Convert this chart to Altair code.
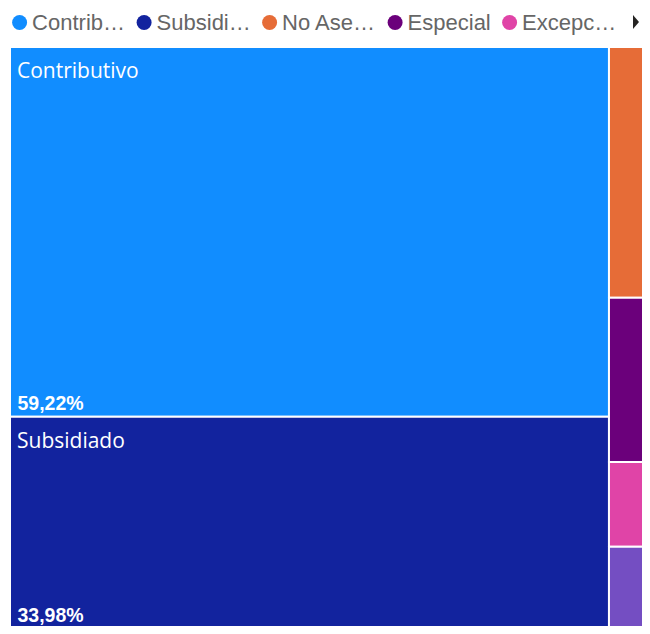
import altair as alt
import pandas as pd

# Data
categories = ["Contributivo", "Subsidiado", "No Asegurado", "Especial", "Excepción", "Indeterminado"]
shares = [59.22, 33.98, 2.93, 1.92, 0.99, 0.96]
colors = ["#118DFF", "#12239E", "#E66C37", "#6B007B", "#E044A7", "#744EC2"]
column_of = [0, 0, 1, 1, 1, 1]

# Treemap layout (slice-and-dice columns) computed from the values
col_totals = {}
for c, s in zip(column_of, shares):
    col_totals[c] = col_totals.get(c, 0) + s
x_start = {}
acc = 0
for c in sorted(col_totals):
    x_start[c] = acc
    acc += col_totals[c]
y_acc = {c: 0 for c in col_totals}
rows = []
for name, s, c in zip(categories, shares, column_of):
    tot = col_totals[c]
    rows.append(dict(
        cat=name, share=s,
        x0=x_start[c], x1=x_start[c] + tot,
        y0=y_acc[c] / tot, y1=(y_acc[c] + s) / tot,
        label=f"{s:.2f}".replace(".", ",") + "%",
        big=(c == 0),
    ))
    y_acc[c] += s
df = pd.DataFrame(rows)

# the treemap is cropped at the right and bottom, as in the reference
xs = alt.Scale(domain=[0, 98.34], nice=False, zero=False)
ys = alt.Scale(domain=[0, 0.99485], reverse=True, nice=False, zero=False)

base = alt.Chart(df)

rects = base.mark_rect(stroke="white", strokeWidth=2, clip=True).encode(
    x=alt.X("x0:Q", scale=xs, axis=None),
    x2="x1:Q",
    y=alt.Y("y0:Q", scale=ys, axis=None),
    y2="y1:Q",
    color=alt.Color(
        "cat:N",
        scale=alt.Scale(domain=categories, range=colors),
        legend=alt.Legend(
            orient="none", legendX=-1.4, legendY=-35.5, direction="horizontal",
            title=None, symbolType="circle", symbolSize=225, symbolStrokeWidth=0,
            labelFont="Liberation Sans", labelFontSize=22, labelColor="#666666",
            labelLimit=95, labelOffset=1.5, columnPadding=7.5, padding=0,
            values=categories[:5],
        ),
    ),
)

names = base.transform_filter("datum.big").mark_text(
    align="left", baseline="alphabetic", dx=7, dy=31,
    font="Open Sans", fontSize=21, color="white", clip=True,
).encode(
    x=alt.X("x0:Q", scale=xs, axis=None),
    y=alt.Y("y0:Q", scale=ys, axis=None),
    text="cat:N",
)

pcts = base.transform_filter("datum.big").mark_text(
    align="left", baseline="alphabetic", dx=7.5, dy=-7,
    font="Liberation Sans", fontSize=19.5, fontWeight="bold", color="white", clip=True,
).encode(
    x=alt.X("x0:Q", scale=xs, axis=None),
    y=alt.Y("y1:Q", scale=ys, axis=None),
    text="label:N",
)

arrow = alt.Chart(pd.DataFrame({"a": [1]})).mark_point(
    shape="M-0.43,-1L0.43,0L-0.43,1Z", filled=True, size=196,
    color="#252423", opacity=1,
).encode(x=alt.value(626), y=alt.value(-25))

chart = alt.layer(rects, names, pcts, arrow).properties(
    width=632, height=579,
    autosize=alt.AutoSizeParams(type="none"),
    padding={"left": 2, "top": 39, "right": 0, "bottom": 0},
).configure_view(stroke=None)

chart.save("out.html", embed_options={"renderer": "svg", "actions": False})
